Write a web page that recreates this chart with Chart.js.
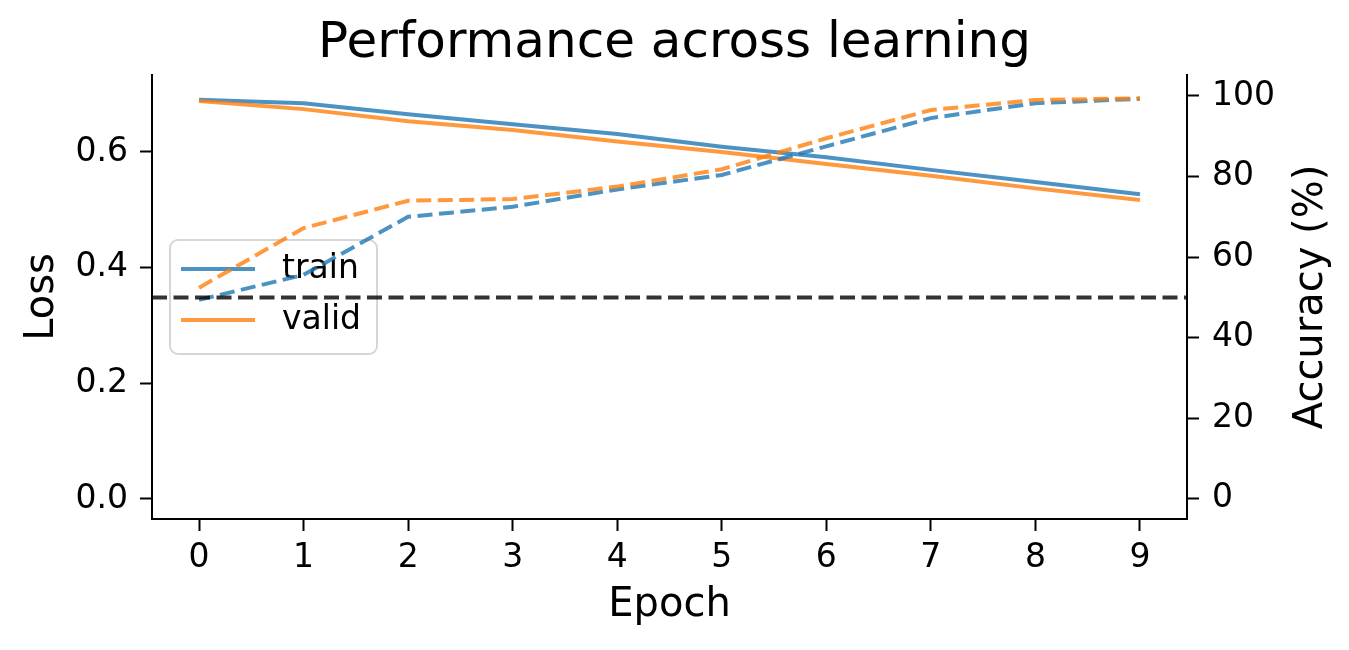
<!DOCTYPE html>
<html>
<head>
<meta charset="utf-8">
<script src="https://cdn.jsdelivr.net/npm/chart.js@4.4.1/dist/chart.umd.min.js"></script>
<style>
  html, body { margin: 0; padding: 0; background: #fff; }
  #wrap { width: 1349px; height: 650px; }
</style>
</head>
<body>
<div id="wrap"><canvas id="perfChart" width="1349" height="650"></canvas></div>
<script>
// values
const epochs = [0, 1, 2, 3, 4, 5, 6, 7, 8, 9];
const trainLoss = [0.690, 0.684, 0.665, 0.648, 0.631, 0.609, 0.591, 0.569, 0.548, 0.527];
const validLoss = [0.688, 0.674, 0.653, 0.638, 0.618, 0.600, 0.579, 0.559, 0.537, 0.517];
const trainAcc = [49.4, 55.6, 70.0, 72.5, 76.8, 80.4, 87.5, 94.5, 98.2, 99.3];
const validAcc = [52.4, 67.2, 74.0, 74.4, 77.5, 81.8, 89.5, 96.5, 99.0, 99.4];
const chanceLevel = 50;
const lossTicks = [0.0, 0.2, 0.4, 0.6];
const accTicks = [0, 20, 40, 60, 80, 100];

const xMin = -0.45, xMax = 9.45;

const BLUE = "rgba(31, 119, 180, 0.8)";
const ORANGE = "rgba(255, 127, 14, 0.8)";
const FONT = "'DejaVu Sans', sans-serif";

const toPoints = (ys) => epochs.map((x, i) => ({ x: x, y: ys[i] }));

// legend drawn inside the plot, under the accuracy lines (like the twin axis in the original)
const innerLegend = {
  id: "innerLegend",
  beforeDatasetsDraw(chart) {
    const ctx = chart.ctx;
    const area = chart.chartArea;
    const x = area.left + 18, y = area.top + 165, w = 207, h = 114, r = 8;
    ctx.save();
    ctx.beginPath();
    ctx.roundRect(x, y, w, h, r);
    ctx.fillStyle = "rgba(255,255,255,0.8)";
    ctx.fill();
    ctx.lineWidth = 2;
    ctx.strokeStyle = "#d6d6d6";
    ctx.stroke();
    const items = [
      { label: "train", color: BLUE },
      { label: "valid", color: ORANGE },
    ];
    ctx.font = "33px " + FONT;
    ctx.textBaseline = "middle";
    ctx.fillStyle = "#000";
    items.forEach((it, i) => {
      const ly = y + 29 + i * 51;
      ctx.beginPath();
      ctx.moveTo(x + 11, ly);
      ctx.lineTo(x + 85, ly);
      ctx.lineWidth = 4;
      ctx.strokeStyle = it.color;
      ctx.stroke();
      ctx.fillText(it.label, x + 112, ly);
    });
    ctx.restore();
  },
};

// right axis title reads bottom-to-top like matplotlib's twin axis label
const rightTitle = {
  id: "rightTitle",
  afterDraw(chart) {
    const ctx = chart.ctx;
    const area = chart.chartArea;
    ctx.save();
    ctx.translate(area.right + 135, (area.top + area.bottom) / 2);
    ctx.rotate(-Math.PI / 2);
    ctx.font = "40px " + FONT;
    ctx.fillStyle = "#000";
    ctx.textAlign = "center";
    ctx.textBaseline = "alphabetic";
    ctx.fillText("Accuracy (%)", 0, 0);
    ctx.restore();
  },
};

const ctx = document.getElementById("perfChart").getContext("2d");

const data = {
  datasets: [
    {
      label: "train",
      data: toPoints(trainLoss),
      yAxisID: "yLoss",
      borderColor: BLUE,
      borderWidth: 4,
      order: 5,
    },
    {
      label: "valid",
      data: toPoints(validLoss),
      yAxisID: "yLoss",
      borderColor: ORANGE,
      borderWidth: 4,
      order: 4,
    },
    {
      label: "train acc",
      data: toPoints(trainAcc),
      yAxisID: "yAcc",
      borderColor: BLUE,
      borderWidth: 4,
      borderDash: [15, 6.5],
      order: 3,
    },
    {
      label: "valid acc",
      data: toPoints(validAcc),
      yAxisID: "yAcc",
      borderColor: ORANGE,
      borderWidth: 4,
      borderDash: [15, 6.5],
      order: 2,
    },
    {
      label: "chance",
      data: [{ x: xMin, y: chanceLevel }, { x: xMax, y: chanceLevel }],
      yAxisID: "yAcc",
      borderColor: "rgba(0,0,0,0.8)",
      borderWidth: 4,
      borderDash: [15, 6.5],
      order: 1,
    },
  ],
};

const tickGrid = {
  drawOnChartArea: false,
  drawTicks: true,
  tickLength: 12,
  tickWidth: 2,
  color: "#000",
};

const config = {
  type: "line",
  data: data,
  options: {
    responsive: false,
    animation: false,
    events: [],
    layout: { padding: 0 },
    elements: {
      point: { radius: 0 },
      line: { tension: 0, fill: false, borderCapStyle: "butt" },
    },
    scales: {
      x: {
        type: "linear",
        position: "bottom",
        min: xMin,
        max: xMax,
        afterBuildTicks: (scale) => {
          scale.ticks = epochs.map((v) => ({ value: v }));
        },
        afterFit: (scale) => {
          scale.height = 131;
        },
        ticks: {
          font: { family: FONT, size: 33 },
          color: "#000",
          padding: 8,
          maxRotation: 0,
          callback: (v) => String(v),
        },
        grid: tickGrid,
        border: { display: true, color: "#000", width: 2 },
        title: {
          display: true,
          text: "Epoch",
          color: "#000",
          font: { family: FONT, size: 40 },
          padding: { top: 0, bottom: 20 },
        },
      },
      yLoss: {
        type: "linear",
        position: "left",
        min: -0.0346,
        max: 0.733,
        afterBuildTicks: (scale) => {
          scale.ticks = lossTicks.map((v) => ({ value: v }));
        },
        afterFit: (scale) => {
          scale.width = 152;
        },
        ticks: {
          font: { family: FONT, size: 33 },
          color: "#000",
          padding: 12,
          callback: (v) => Number(v).toFixed(1),
        },
        grid: tickGrid,
        border: { display: true, color: "#000", width: 2 },
        title: {
          display: true,
          text: "Loss",
          color: "#000",
          font: { family: FONT, size: 40 },
          padding: { top: 19, bottom: 0 },
        },
      },
      yAcc: {
        type: "linear",
        position: "right",
        min: -5,
        max: 105.2,
        afterBuildTicks: (scale) => {
          scale.ticks = accTicks.map((v) => ({ value: v }));
        },
        afterFit: (scale) => {
          scale.width = 162;
        },
        ticks: {
          font: { family: FONT, size: 33 },
          color: "#000",
          padding: 13,
          callback: (v) => String(v),
        },
        grid: tickGrid,
        border: { display: true, color: "#000", width: 2 },
        title: { display: false },
      },
    },
    plugins: {
      legend: { display: false },
      tooltip: { enabled: false },
      title: {
        display: true,
        text: "Performance across learning",
        color: "#000",
        font: { family: FONT, size: 50, weight: "normal" },
        padding: { top: 14.5, bottom: 0.5 },
      },
    },
  },
  plugins: [innerLegend, rightTitle],
};

const perfChart = new Chart(ctx, config);
</script>
</body>
</html>
